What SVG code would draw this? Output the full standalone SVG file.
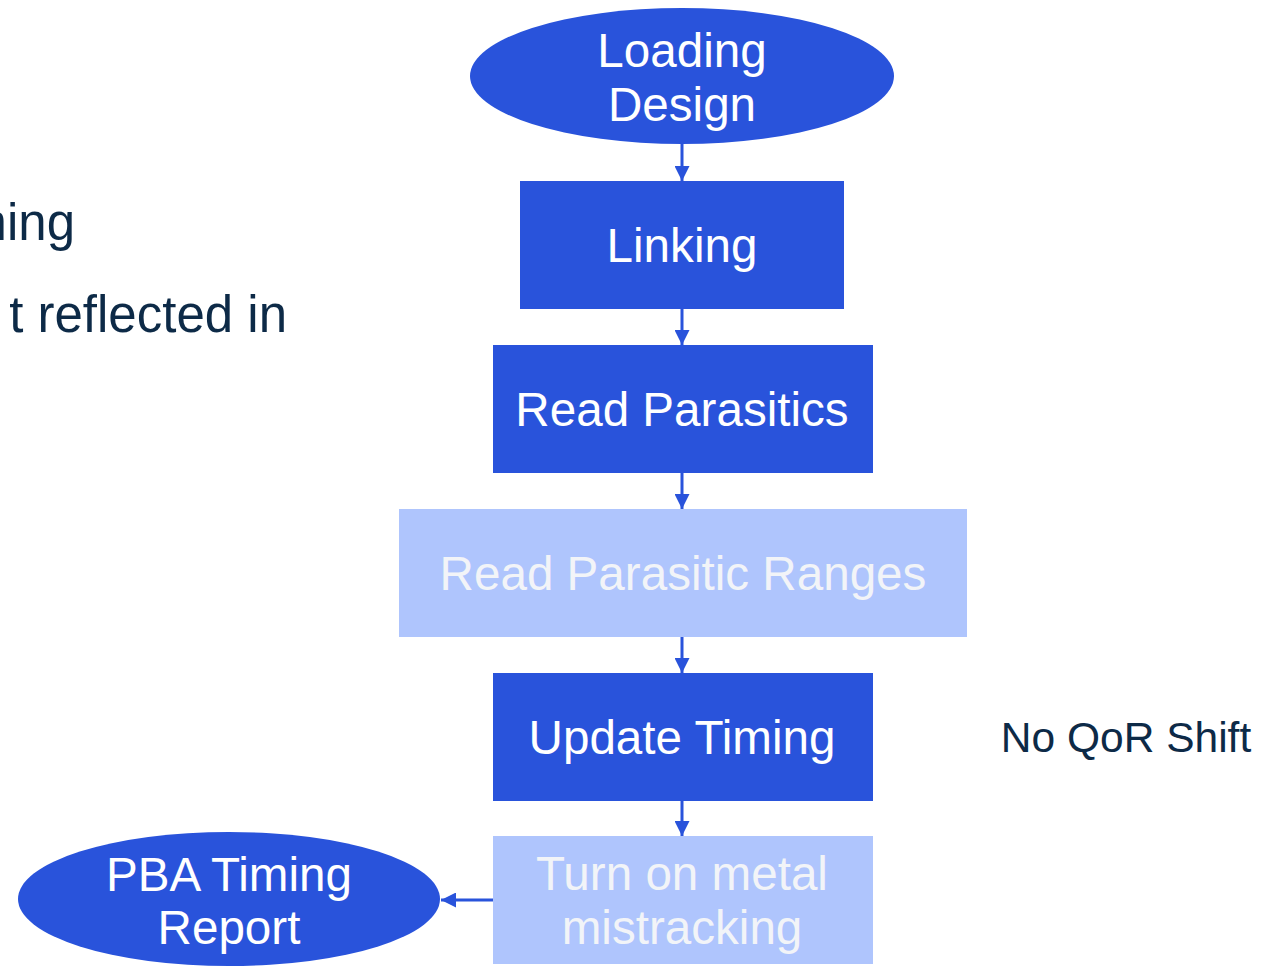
<svg xmlns="http://www.w3.org/2000/svg" width="1268" height="966" viewBox="0 0 1268 966">
<style>
.dk{fill:#2953DB}
.lt{fill:#AFC5FD}
.t{font-family:"Liberation Sans",Arial,sans-serif;font-size:47.6px;text-anchor:middle}
.tw{fill:#FFFFFF}
.tl{fill:#F2F4F8}
.tx{font-family:"Liberation Sans",Arial,sans-serif;fill:#0D2A47}
.c{stroke:#2953DB;stroke-width:3;fill:none}
</style>
<defs>
<marker id="ah" viewBox="0 0 10 10" refX="10" refY="5" markerWidth="15" markerHeight="15" markerUnits="userSpaceOnUse" orient="auto">
<path d="M0,0 L10,5 L0,10 Z" fill="#2953DB"/>
</marker>
</defs>
<rect width="1268" height="966" fill="#FFFFFF"/>
<text class="tx" x="75" y="240" font-size="51" text-anchor="end">ning</text>
<text class="tx" x="287" y="332" font-size="51" text-anchor="end">t reflected in</text>
<text class="tx" x="1126" y="752" font-size="42.5" text-anchor="middle">No QoR Shift</text>
<g id="connectors">
<line class="c" x1="682" y1="144" x2="682" y2="181" marker-end="url(#ah)"/>
<line class="c" x1="682" y1="309" x2="682" y2="345" marker-end="url(#ah)"/>
<line class="c" x1="682" y1="473" x2="682" y2="509" marker-end="url(#ah)"/>
<line class="c" x1="682" y1="637" x2="682" y2="673" marker-end="url(#ah)"/>
<line class="c" x1="682" y1="801" x2="682" y2="836" marker-end="url(#ah)"/>
<line class="c" x1="493" y1="900" x2="441" y2="900" marker-end="url(#ah)"/>
</g>
<g id="loading">
<ellipse class="dk" cx="682" cy="76" rx="212" ry="68"/>
<text class="t tw" x="682" y="67">Loading</text>
<text class="t tw" x="682" y="121">Design</text>
</g>
<g id="linking">
<rect class="dk" x="520" y="181" width="324" height="128"/>
<text class="t tw" x="682" y="262">Linking</text>
</g>
<g id="readpar">
<rect class="dk" x="493" y="345" width="380" height="128"/>
<text class="t tw" x="682" y="426">Read Parasitics</text>
</g>
<g id="readranges">
<rect class="lt" x="399" y="509" width="568" height="128"/>
<text class="t tl" x="683" y="590">Read Parasitic Ranges</text>
</g>
<g id="update">
<rect class="dk" x="493" y="673" width="380" height="128"/>
<text class="t tw" x="682" y="754">Update Timing</text>
</g>
<g id="mistrack">
<rect class="lt" x="493" y="836" width="380" height="128"/>
<text class="t tl" x="682" y="890">Turn on metal</text>
<text class="t tl" x="682" y="944">mistracking</text>
</g>
<g id="pba">
<ellipse class="dk" cx="229" cy="899" rx="211" ry="67"/>
<text class="t tw" x="229" y="891">PBA Timing</text>
<text class="t tw" x="229" y="944">Report</text>
</g>
</svg>
